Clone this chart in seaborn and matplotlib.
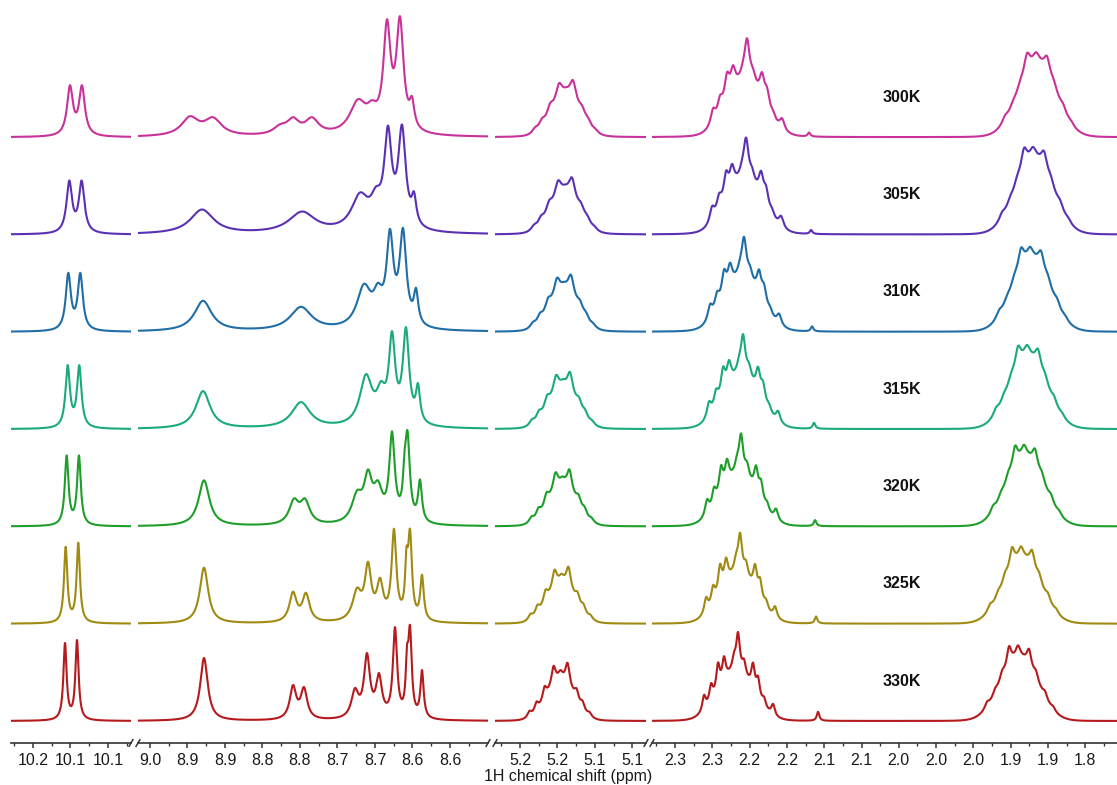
import numpy as np
import pandas as pd
import matplotlib
matplotlib.use("Agg")
import matplotlib.pyplot as plt
import seaborn as sns

# ---------------- data ----------------
TEMPS = ["300K", "305K", "310K", "315K", "320K", "325K", "330K"]
COLORS = ["#C8329A", "#5A31B4", "#1F6EA8", "#1BAA7C", "#1E9E2A", "#A08A12", "#B51A1C"]

# segment limits (ppm, left -> right)
SEG_LIMITS = [(10.2093, 10.0493), (9.0060, 8.5393), (5.2533, 5.0520), (2.3484, 1.7749)]

# axis ticks
SEG_MAJOR = [
    [10.18, 10.13, 10.08],
    [8.99, 8.94, 8.89, 8.84, 8.79, 8.74, 8.69, 8.64, 8.59],
    [5.22, 5.17, 5.12, 5.07],
    [2.320, 2.274, 2.228, 2.182, 2.136, 2.090, 2.044, 1.998, 1.952, 1.906, 1.860, 1.814],
]
SEG_LABELS = [
    ["10.2", "10.1", "10.1"],
    ["9.0", "8.9", "8.9", "8.8", "8.8", "8.7", "8.7", "8.6", "8.6"],
    ["5.2", "5.2", "5.1", "5.1"],
    ["2.3", "2.3", "2.2", "2.2", "2.1", "2.1", "2.0", "2.0", "2.0", "1.9", "1.9", "1.8"],
]
SEG_MINOR = [
    [10.205, 10.155, 10.105, 10.055],
    [8.965, 8.915, 8.865, 8.815, 8.765, 8.715, 8.665, 8.615, 8.565],
    [5.245, 5.195, 5.145, 5.095],
    [2.343, 2.297, 2.251, 2.205, 2.159, 2.113, 2.067, 2.021, 1.975, 1.929, 1.883, 1.837, 1.791],
]

# segment 1: doublet (positions ppm, apex heights, half widths ppm)
S1_POS = [[10.1307, 10.1147], [10.1316, 10.1151], [10.1329, 10.1169], [10.1337, 10.1183],
          [10.1351, 10.1187], [10.1364, 10.1196], [10.1373, 10.1213]]
S1_HGT = [[52, 52], [54, 54], [59, 59], [64, 64], [71, 71], [77, 81], [78, 81]]
S1_WID = [0.0047, 0.0045, 0.0041, 0.0036, 0.0030, 0.0027, 0.0026]

# segment 2: aromatic region
S2_POS = [
    [8.9367, 8.9060, 8.8167, 8.7993, 8.7740, 8.7127, 8.6940, 8.6740, 8.6567, 8.6407],
    [8.9207, 8.7873, 8.7100, 8.6887, 8.6727, 8.6540, 8.6380],
    [8.9193, 8.7887, 8.7047, 8.6860, 8.6700, 8.6527, 8.6353],
    [8.9193, 8.7887, 8.7020, 8.6820, 8.6673, 8.6487, 8.6327],
    [8.9180, 8.7980, 8.7833, 8.7140, 8.6993, 8.6860, 8.6673, 8.6507, 8.6467, 8.6300],
    [8.9180, 8.7993, 8.7820, 8.7140, 8.6993, 8.6833, 8.6647, 8.6480, 8.6433, 8.6273],
    [8.9180, 8.7993, 8.7847, 8.7167, 8.7007, 8.6847, 8.6633, 8.6473, 8.6433, 8.6273],
]
S2_HGT = [
    [21, 20, 13, 20, 20, 38, 37, 118, 121, 41],
    [25, 23, 42, 48, 109, 110, 43],
    [31, 25, 48, 49, 103, 104, 44],
    [38, 27, 55, 48, 98, 102, 46],
    [46, 28, 28, 36, 57, 46, 95, 75, 96, 47],
    [56, 32, 31, 36, 62, 46, 95, 77, 95, 49],
    [63, 36, 34, 33, 68, 48, 94, 76, 96, 51],
]
S2_WID = [
    [0.0140, 0.0140, 0.0110, 0.0100, 0.0110, 0.0135, 0.0085, 0.0058, 0.0058, 0.0038],
    [0.0190, 0.0215, 0.0140, 0.0085, 0.0060, 0.0060, 0.0038],
    [0.0140, 0.0175, 0.0115, 0.0075, 0.0055, 0.0055, 0.0036],
    [0.0115, 0.0150, 0.0100, 0.0072, 0.0051, 0.0051, 0.0034],
    [0.0088, 0.0078, 0.0078, 0.0085, 0.0066, 0.0072, 0.0044, 0.0024, 0.0038, 0.0031],
    [0.0068, 0.0058, 0.0058, 0.0072, 0.0052, 0.0052, 0.0038, 0.0022, 0.0031, 0.0028],
    [0.0060, 0.0052, 0.0052, 0.0058, 0.0048, 0.0048, 0.0034, 0.0021, 0.0028, 0.0026],
]

# segment 3: multiplet near 5.16 ppm (300K line positions / apex heights)
S3_POS = [5.2000, 5.1907, 5.1800, 5.1680, 5.1587, 5.1493, 5.1373, 5.1293, 5.1200]
S3_HGT = [10, 19, 34, 54, 50, 57, 32, 20, 9]
S3_SHIFT = [0.0, 0.0013, 0.0027, 0.0040, 0.0047, 0.0060, 0.0073]
S3_SCALE = [1.0, 1.0, 1.0, 1.0, 1.0, 1.0, 1.02]
S3_WID = [0.0050, 0.0050, 0.0047, 0.0044, 0.0040, 0.0037, 0.0034]
S3_ENV = (5.1587, 0.0175, 38)

# segment 4: two multiplets + small sharp line
S4A_POS = [2.2731, 2.2645, 2.2559, 2.2485, 2.2361, 2.2312, 2.2238, 2.2127, 2.2065, 2.1991, 2.1880]
S4A_HGT = [29, 42, 65, 72, 77, 99, 69, 65, 50, 27, 19]
S4A_SHIFT = [0.0, 0.0012, 0.0037, 0.0049, 0.0074, 0.0086, 0.0111]
S4A_SCALE = [1.0, 0.98, 0.96, 0.96, 0.94, 0.92, 0.90]
S4A_WID = [0.0038, 0.0037, 0.0036, 0.0034, 0.0031, 0.0029, 0.0027]
S4A_ENV = (2.2337, 0.021, 52)

S4B_POS = [1.9130, 1.9031, 1.8945, 1.8859, 1.8748, 1.8612, 1.8526, 1.8415, 1.8316]
S4B_HGT = [22, 37, 57, 84, 85, 81, 57, 34, 17]
S4B_SHIFT = [0.0, 0.0037, 0.0074, 0.0111, 0.0148, 0.0185, 0.0222]
S4B_SCALE = [1.0, 1.03, 1.0, 0.99, 0.96, 0.91, 0.89]
S4B_WID = [0.0046, 0.0045, 0.0044, 0.0042, 0.0039, 0.0036, 0.0033]
S4B_ENV = (1.8735, 0.0222, 70)

S4S_POS = [2.1547, 2.1522, 2.1510, 2.1486, 2.1473, 2.1461, 2.1436]
S4S_HGT = [4, 4, 5, 6, 6, 7, 9]
S4S_WID = 0.0019

X_LABEL = "1H chemical shift (ppm)"

# ---------------- helpers ----------------
def lorentz(x, c, g):
    return 1.0 / (1.0 + ((x - c) / g) ** 2)


def multiplet(x, pos, hgt, wid, env=None):
    pos = np.asarray(pos, float)
    hgt = np.asarray(hgt, float)
    wid = np.broadcast_to(np.asarray(wid, float), pos.shape)

    def envf(v):
        if env is None:
            return np.zeros_like(v)
        c, s, a = env
        return a * np.exp(-0.5 * ((v - c) / s) ** 2)

    A = lorentz(pos[:, None], pos[None, :], wid[None, :])
    r = hgt - envf(pos)
    a = np.clip(r, 0, None)
    for _ in range(400):
        for j in range(len(pos)):
            a[j] = max(0.0, a[j] + (r[j] - A[j] @ a))
    return envf(x) + (a[None, :] * lorentz(x[:, None], pos[None, :], wid[None, :])).sum(1)


# ---------------- figure ----------------
sns.set_style("ticks")
plt.rcParams["font.family"] = ["Liberation Sans", "DejaVu Sans"]

W, H = 1117, 785
fig = plt.figure(figsize=(W / 100, H / 100), dpi=100)
AX_BOTTOM = 743            # pixel row of the axis line
SEG_PX = [(11, 131), (138, 488), (495, 646), (652, 1117)]
SPACING = 97.3
BASE0 = 22.0
offsets = [BASE0 + SPACING * (len(TEMPS) - 1 - i) for i in range(len(TEMPS))]

rows = []
for s, (xl, xr) in enumerate(SEG_LIMITS):
    x = np.linspace(xl, xr, 1400)
    for i, t in enumerate(TEMPS):
        if s == 0:
            y = multiplet(x, S1_POS[i], S1_HGT[i], S1_WID[i])
        elif s == 1:
            y = multiplet(x, S2_POS[i], S2_HGT[i], S2_WID[i])
        elif s == 2:
            env = (S3_ENV[0] + S3_SHIFT[i], S3_ENV[1], S3_ENV[2] * S3_SCALE[i])
            y = multiplet(x, np.array(S3_POS) + S3_SHIFT[i], np.array(S3_HGT) * S3_SCALE[i],
                          S3_WID[i], env)
        else:
            envA = (S4A_ENV[0] + S4A_SHIFT[i], S4A_ENV[1], S4A_ENV[2] * S4A_SCALE[i])
            envB = (S4B_ENV[0] + S4B_SHIFT[i], S4B_ENV[1], S4B_ENV[2] * S4B_SCALE[i])
            y = (multiplet(x, np.array(S4A_POS) + S4A_SHIFT[i], np.array(S4A_HGT) * S4A_SCALE[i],
                           S4A_WID[i], envA)
                 + multiplet(x, np.array(S4B_POS) + S4B_SHIFT[i], np.array(S4B_HGT) * S4B_SCALE[i],
                             S4B_WID[i], envB)
                 + multiplet(x, [S4S_POS[i]], [S4S_HGT[i]], S4S_WID))
        rows.append(pd.DataFrame({"seg": s, "temp": t, "ppm": x, "y": y + offsets[i]}))
df = pd.concat(rows, ignore_index=True)

palette = dict(zip(TEMPS, COLORS))
axes = []
for s, (px0, px1) in enumerate(SEG_PX):
    ax = fig.add_axes([px0 / W, (H - AX_BOTTOM) / H, (px1 - px0) / W, AX_BOTTOM / H])
    sns.lineplot(data=df[df.seg == s], x="ppm", y="y", hue="temp", palette=palette,
                 estimator=None, sort=False, legend=False, lw=1.5, ax=ax)
    ax.set_xlim(*SEG_LIMITS[s])
    ax.set_ylim(0, AX_BOTTOM)
    ax.set_yticks([])
    ax.set_xlabel("")
    ax.set_ylabel("")
    for sp in ("top", "right", "left"):
        ax.spines[sp].set_visible(False)
    ax.spines["bottom"].set_linewidth(1.2)
    ax.spines["bottom"].set_color("#333333")
    ax.set_xticks(SEG_MAJOR[s])
    ax.set_xticklabels(SEG_LABELS[s])
    ax.set_xticks(SEG_MINOR[s], minor=True)
    ax.tick_params(axis="x", which="major", length=3.5, width=1.1, direction="out",
                   color="#333333", labelcolor="#1a1a1a", labelsize=11.5, pad=3.5)
    ax.tick_params(axis="x", which="minor", length=2.2, width=1.0, direction="out",
                   color="#333333")
    ax.patch.set_alpha(0)
    # break marks
    wpx = px1 - px0
    dx, dy = 2.0 / wpx, 3.5 / AX_BOTTOM
    ends = []
    if s > 0:
        ends.append(0.0)
    if s < len(SEG_PX) - 1:
        ends.append(1.0)
    for e in ends:
        ax.plot([e - dx, e + dx], [-dy, dy], transform=ax.transAxes, color="#333333",
                lw=1.1, clip_on=False)
    axes.append(ax)

# temperature labels
ax4 = axes[3]
for i, t in enumerate(TEMPS):
    ax4.text(2.04, offsets[i] + 40, t, ha="center", va="center", fontsize=11.5,
             fontweight="bold", color="#111111")

fig.text(568 / W, 1 - 776 / H, X_LABEL, ha="center", va="center", fontsize=11.5,
         color="#1a1a1a")

fig.savefig("out.png", dpi=100)
